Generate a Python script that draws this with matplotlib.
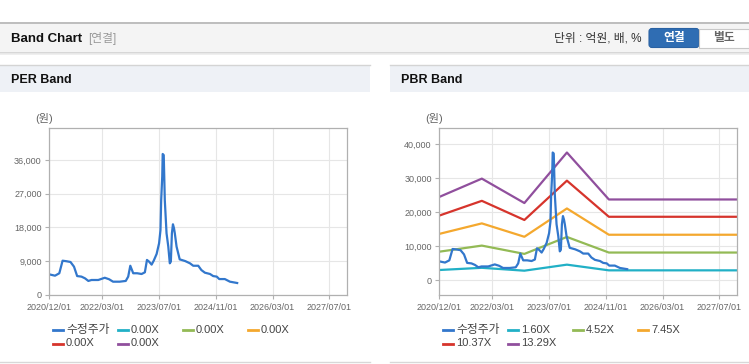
import matplotlib
matplotlib.use('Agg')
import matplotlib.pyplot as plt
import matplotlib.dates as mdates
from matplotlib.patches import Rectangle, FancyBboxPatch
import pandas as pd

plt.rcParams['font.family'] = ['Liberation Sans', 'Noto Sans CJK KR', 'DejaVu Sans']

# ========== 데이터 ==========
# 수정주가
price_dates = ['2020-12-01', '2021-01-19', '2021-02-25', '2021-03-25', '2021-04-28', '2021-06-01',
               '2021-07-01', '2021-07-28', '2021-09-03', '2021-10-03', '2021-11-01', '2021-11-28',
               '2022-01-25', '2022-03-22', '2022-04-28', '2022-06-01', '2022-07-28', '2022-09-18',
               '2022-10-09', '2022-10-27', '2022-11-21', '2022-12-25', '2023-02-01', '2023-03-01',
               '2023-03-19', '2023-04-06', '2023-04-28', '2023-05-16', '2023-06-10', '2023-07-01',
               '2023-07-13', '2023-07-19', '2023-07-28', '2023-08-01', '2023-08-10', '2023-08-19',
               '2023-09-03', '2023-09-18', '2023-10-01', '2023-10-10', '2023-10-19', '2023-10-28',
               '2023-11-06', '2023-11-13', '2023-11-28', '2023-12-25', '2024-02-10', '2024-03-22',
               '2024-04-19', '2024-06-01', '2024-06-28', '2024-07-28', '2024-09-10', '2024-10-07',
               '2024-11-07', '2024-11-28', '2025-01-15', '2025-02-28', '2025-05-01']
price_values = [5500, 5150, 5800, 9150, 9000, 8800,
                7550, 5050, 4900, 4450, 3750, 4000,
                4000, 4600, 4200, 3550, 3550, 3750,
                4900, 7800, 5800, 5800, 5600, 6050,
                9350, 8900, 8100, 9150, 10950, 13800,
                17300, 25300, 31550, 37600, 37300, 25300,
                16450, 12900, 8450, 8900, 16450, 18850,
                17800, 16450, 12900, 9500, 9050, 8450,
                7800, 7800, 6650, 5950, 5600, 5050,
                4900, 4250, 4250, 3550, 3200]

# 밴드 꼭짓점 날짜
band_dates = ['2020-12-01', '2021-12-01', '2022-12-01', '2023-12-01', '2024-11-25', '2027-12-02']

# PER 밴드 (모두 0.00X)
per_labels = ['0.00X', '0.00X', '0.00X', '0.00X', '0.00X']
per_bands = [
    [0, 0, 0, 0, 0, 0],
    [0, 0, 0, 0, 0, 0],
    [0, 0, 0, 0, 0, 0],
    [0, 0, 0, 0, 0, 0],
    [0, 0, 0, 0, 0, 0],
]

# PBR 밴드
pbr_labels = ['1.60X', '4.52X', '7.45X', '10.37X', '13.29X']
pbr_bands = [
    [2950, 3600, 2750, 4530, 2850, 2850],
    [8350, 10150, 7700, 12700, 8100, 8100],
    [13600, 16700, 12750, 21100, 13350, 13350],
    [19000, 23350, 17700, 29300, 18650, 18650],
    [24500, 29900, 22700, 37600, 23750, 23750],
]

band_colors = ['#21b0c6', '#93ba55', '#f4a82e', '#d6342c', '#904f9d']
price_color = '#3277cc'
price_label = '수정주가'

x_ticks = ['2020/12/01', '2022/03/01', '2023/07/01', '2024/11/01', '2026/03/01', '2027/07/01']
x_range = ['2020-12-01', '2027-12-02']
per_yticks = [0, 9000, 18000, 27000, 36000]
pbr_yticks = [0, 10000, 20000, 30000, 40000]

W, H = 749, 364
fig = plt.figure(figsize=(W / 100, H / 100), dpi=100)

# ========== 배경 / 헤더 ==========
bg = fig.add_axes([0, 0, 1, 1], zorder=0)
bg.set_xlim(0, W)
bg.set_ylim(H, 0)
bg.axis('off')

# 상단 바
bg.add_patch(Rectangle((0, 22), W, 30, facecolor='#f4f4f4', edgecolor='none'))
bg.plot([0, W], [22.5, 22.5], color='#b4b4b4', lw=1.2)
bg.plot([0, W], [52.5, 52.5], color='#cfcfcf', lw=1.2)
bg.plot([0, W], [54, 54], color='#ececec', lw=1.2)
bg.text(11, 38.5, 'Band Chart', fontsize=9.5, fontweight='bold', color='#111111', va='center')
bg.text(88, 38.5, '[연결]', fontsize=8.5, color='#999999', va='center')
bg.text(641, 38.5, '단위 : 억원, 배, %', fontsize=8.5, color='#333333', va='center', ha='right')
bg.add_patch(FancyBboxPatch((649, 28.5), 50, 19, boxstyle='round,pad=0,rounding_size=3',
                            facecolor='#2f6db3', edgecolor='#2a62a3', lw=0.8))
bg.add_patch(Rectangle((699, 28.5), 50, 19, facecolor='white', edgecolor='#c8c8c8', lw=0.8))
bg.text(674, 38, '연결', fontsize=8.5, fontweight='bold', color='white', ha='center', va='center')
bg.text(724, 38, '별도', fontsize=8.5, fontweight='bold', color='#666666', ha='center', va='center')

# 패널 헤더
for x0, title in [(0, 'PER Band'), (390, 'PBR Band')]:
    w = 370 if x0 == 0 else W - 390
    bg.add_patch(Rectangle((x0, 64.5), w, 27.5, facecolor='#eef1f6', edgecolor='none'))
    bg.plot([x0, x0 + w], [64.5, 64.5], color='#d4d4d4', lw=1)
    bg.plot([x0, x0 + w], [361.5, 361.5], color='#d8d8d8', lw=1)
    bg.text(x0 + 11, 80, title, fontsize=9, fontweight='bold', color='#111111', va='center')
    bg.text(x0 + 44, 118, '(원)', fontsize=8, color='#666666', ha='center', va='center')

# ========== 차트 ==========
dates_p = pd.to_datetime(price_dates)
dates_b = pd.to_datetime(band_dates)
tick_dates = pd.to_datetime(x_ticks, format='%Y/%m/%d')


def draw_panel(left_px, bands, yticks, ylim):
    ax = fig.add_axes([left_px / W, (H - 295) / H, 298 / W, 166.7 / H], zorder=1)
    ax.set_facecolor('none')
    for vals, c in zip(bands, band_colors):
        if not any(vals):  # 값이 모두 0인 밴드는 그리지 않음 (범례만 표시)
            continue
        ax.plot(dates_b, vals, color=c, lw=1.6, solid_joinstyle='round')
    ax.plot(dates_p, price_values, color=price_color, lw=1.6, solid_joinstyle='round')
    ax.set_xlim(pd.to_datetime(x_range[0]), pd.to_datetime(x_range[1]))
    ax.set_ylim(*ylim)
    ax.set_xticks(tick_dates)
    ax.xaxis.set_major_formatter(mdates.DateFormatter('%Y/%m/%d'))
    ax.set_yticks(yticks)
    ax.set_yticklabels([f'{v:,}' for v in yticks])
    ax.grid(True, color='#e6e6e6', lw=0.8)
    ax.set_axisbelow(True)
    for s in ax.spines.values():
        s.set_color('#b0b0b0')
        s.set_linewidth(0.9)
        s.set_zorder(3)
    ax.tick_params(axis='both', colors='#b0b0b0', labelcolor='#666666', labelsize=6.5,
                   length=3, width=0.8, pad=2.5)
    ax.tick_params(axis='x', pad=3)
    return ax


draw_panel(49.3, per_bands, per_yticks, (0, 44450))
draw_panel(439.3, pbr_bands, pbr_yticks, (-4420, 44740))

# ========== 범례 ==========
for x0, labels in [(0, per_labels), (390, pbr_labels)]:
    entries = [(price_label, price_color)] + list(zip(labels, band_colors))
    for i, (lab, c) in enumerate(entries):
        row, col = divmod(i, 4)
        lx = x0 + 53 + col * 65
        ly = 330 + row * 13.5
        bg.plot([lx, lx + 10], [ly, ly], color=c, lw=2)
        fs = 8.5 if lab == price_label else 8
        bg.text(lx + 13, ly, lab, fontsize=fs, color='#444444', va='center')

fig.savefig('out.png', dpi=100)
